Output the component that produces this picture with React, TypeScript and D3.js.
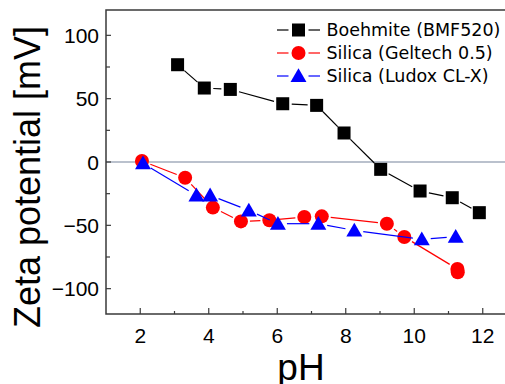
import React from "react";
import * as d3 from "d3";

const W = 505;
const H = 384;

// pH / zeta potential readings per sample
const boehmitePH = [3.09, 3.87, 4.63, 6.16, 7.15, 7.95, 9.02, 10.17, 11.11, 11.9];
const boehmiteZeta = [76.8, 58.4, 57.3, 46, 44.7, 22.9, -5.8, -22.9, -28.2, -40];
const geltechPH = [2.05, 3.31, 4.12, 4.94, 5.77, 6.79, 7.3, 9.2, 9.71, 11.26, 11.27];
const geltechZeta = [0.8, -12.4, -36, -46.9, -46, -43.4, -42.9, -48.7, -59.2, -84.5, -87];
const ludoxPH = [2.08, 3.64, 4.04, 5.17, 6.02, 7.2, 8.25, 10.22, 11.21];
const ludoxZeta = [-1, -26.3, -26.3, -38.2, -48.7, -48.7, -54, -61, -59];

const seriesNames = ["Boehmite (BMF520)", "Silica (Geltech 0.5)", "Silica (Ludox CL-X)"];
const seriesColors = ["#000000", "#ff0000", "#0000ff"];
const seriesMarkers = ["square", "circle", "triangle"];

const xTicks = [2, 4, 6, 8, 10, 12];
const xMinorTicks = [3, 5, 7, 9, 11];
const yTicks = [100, 50, 0, -50, -100];
const yMinorTicks = [75, 25, -25, -75];

const x = d3.scaleLinear().domain([1, 13]).range([106, 517]);
const y = d3.scaleLinear().domain([-120, 120]).range([314, 10]);

const FONT = "'Liberation Sans', Arial, sans-serif";
const LEGEND_FONT = "'DejaVu Sans', sans-serif";

const Marker = ({ kind, cx, cy, color }: { kind: string; cx: number; cy: number; color: string }) => {
  if (kind === "square") return <rect x={cx - 6.5} y={cy - 6.5} width={13} height={13} fill={color} />;
  if (kind === "circle") return <circle cx={cx} cy={cy} r={7} fill={color} />;
  const tri = d3.symbol().type(d3.symbolTriangle).size(110)();
  return <path d={tri || ""} transform={`translate(${cx},${cy + 1.5})`} fill={color} />;
};

// connecting segments with a small gap around each marker
const gapSegments = (pts: [number, number][], gap: number) => {
  const segs: [number, number, number, number][] = [];
  for (let i = 0; i < pts.length - 1; i++) {
    const [x1, y1] = pts[i];
    const [x2, y2] = pts[i + 1];
    const len = Math.hypot(x2 - x1, y2 - y1);
    if (len <= gap * 2 + 1) continue;
    const ux = (x2 - x1) / len;
    const uy = (y2 - y1) / len;
    segs.push([x1 + ux * gap, y1 + uy * gap, x2 - ux * gap, y2 - uy * gap]);
  }
  return segs;
};

export default function App() {
  const series = [
    { ph: boehmitePH, z: boehmiteZeta },
    { ph: geltechPH, z: geltechZeta },
    { ph: ludoxPH, z: ludoxZeta },
  ];
  const legendY = [30, 53, 76];

  return (
    <svg
      width={W}
      height={H}
      style={{ position: "absolute", left: 0, top: 0, background: "#fff" }}
      fontFamily={FONT}
    >
      <rect width={W} height={H} fill="#fff" />
      {/* zero line */}
      <line x1={x(1)} x2={W} y1={y(0)} y2={y(0)} stroke="#a3adbd" strokeWidth={1.5} />

      {/* frame */}
      <path
        d={`M${W + 2},${y(120)}H${x(1)}V${y(-120)}H${W + 2}`}
        fill="none"
        stroke="#3a3a3a"
        strokeWidth={1.5}
      />

      {/* x ticks */}
      {xTicks.map((t) => (
        <g key={`xt${t}`}>
          <line x1={x(t)} x2={x(t)} y1={y(-120)} y2={y(-120) - 6} stroke="#3a3a3a" strokeWidth={1.2} />
          <text x={x(t)} y={343} textAnchor="middle" fontSize={21} fill="#000">
            {t}
          </text>
        </g>
      ))}
      {xMinorTicks.map((t) => (
        <line key={`xm${t}`} x1={x(t)} x2={x(t)} y1={y(-120)} y2={y(-120) - 3} stroke="#3a3a3a" strokeWidth={1.2} />
      ))}

      {/* y ticks */}
      {yTicks.map((t) => (
        <g key={`yt${t}`}>
          <line x1={x(1)} x2={x(1) + 5} y1={y(t)} y2={y(t)} stroke="#3a3a3a" strokeWidth={1.2} />
          <text x={99} y={y(t) + 7.5} textAnchor="end" fontSize={21} fill="#000">
            {t === 0 ? "0" : t < 0 ? `\u2212${Math.abs(t)}` : t}
          </text>
        </g>
      ))}
      {yMinorTicks.map((t) => (
        <line key={`ym${t}`} x1={x(1)} x2={x(1) + 4} y1={y(t)} y2={y(t)} stroke="#3a3a3a" strokeWidth={1.2} />
      ))}

      {/* axis titles */}
      <text x={301} y={380} textAnchor="middle" fontSize={37} fill="#000">
        pH
      </text>
      <text
        transform="translate(40,177) rotate(-90)"
        textAnchor="middle"
        fontSize={36}
        fill="#000"
      >
        Zeta potential [mV]
      </text>

      {/* series */}
      {series.map((s, si) => {
        const pts = s.ph.map((p, i) => [x(p), y(s.z[i])] as [number, number]);
        return (
          <g key={`s${si}`}>
            {gapSegments(pts, 9).map((sg, j) => (
              <line key={j} x1={sg[0]} y1={sg[1]} x2={sg[2]} y2={sg[3]} stroke={seriesColors[si]} strokeWidth={1.2} />
            ))}
            {pts.map((p, i) => (
              <Marker key={i} kind={seriesMarkers[si]} cx={p[0]} cy={p[1]} color={seriesColors[si]} />
            ))}
          </g>
        );
      })}

      {/* legend */}
      {seriesNames.map((name, i) => (
        <g key={`lg${i}`}>
          <line x1={277} x2={288.5} y1={legendY[i]} y2={legendY[i]} stroke={seriesColors[i]} strokeWidth={1.2} />
          <line x1={308.5} x2={320} y1={legendY[i]} y2={legendY[i]} stroke={seriesColors[i]} strokeWidth={1.2} />
          <Marker kind={seriesMarkers[i]} cx={298.5} cy={legendY[i]} color={seriesColors[i]} />
          <text x={326.5} y={legendY[i] + 6} fontSize={17.5} fontFamily={LEGEND_FONT} fill="#000">
            {name}
          </text>
        </g>
      ))}
    </svg>
  );
}
